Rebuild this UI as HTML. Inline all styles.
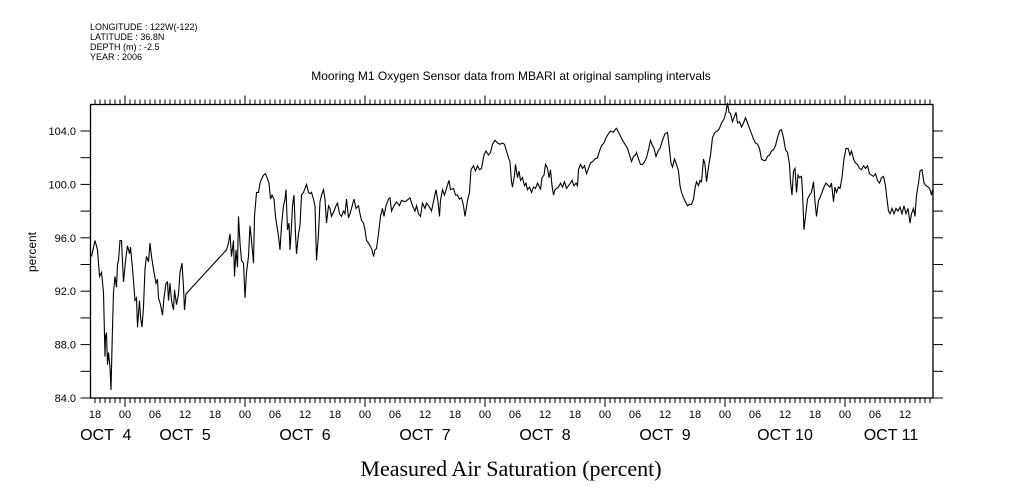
<!DOCTYPE html>
<html><head><meta charset="utf-8"><style>
body{margin:0;background:#fff}
svg{display:block}
text{font-family:"Liberation Sans",sans-serif;fill:#000}
</style></head><body>
<svg id="chart" width="1009" height="504" viewBox="0 0 1009 504" xmlns="http://www.w3.org/2000/svg">
<g font-size="9">
<text x="90" y="30">LONGITUDE : 122W(-122)</text>
<text x="90" y="40">LATITUDE : 36.8N</text>
<text x="90" y="50">DEPTH (m) : -2.5</text>
<text x="90" y="60">YEAR : 2006</text>
</g>
<text x="511" y="80" font-size="12" text-anchor="middle">Mooring M1 Oxygen Sensor data from MBARI at original sampling intervals</text>
<text x="511" y="476" font-size="22" text-anchor="middle" style="font-family:'Liberation Serif',serif">Measured Air Saturation (percent)</text>
<text transform="translate(36,252) rotate(-90)" font-size="12" text-anchor="middle">percent</text>
<rect x="90.5" y="104.5" width="842.5" height="293.5" fill="none" stroke="#000" stroke-width="1.3"/>
<g id="axes"></g>
<g id="series"></g>
</svg>
<script>
const hours=[17.3,18.0,18.5,18.9,19.3,19.7,20.0,20.1,20.3,20.5,20.7,21.0,21.2,21.5,21.7,22.0,22.3,22.5,22.7,23.0,23.3,23.7,24.2,24.5,24.9,25.1,25.5,26.0,26.3,26.5,26.9,27.1,27.4,27.7,28.0,28.3,28.7,29.0,29.3,29.8,30.2,30.5,30.7,31.1,31.5,31.8,32.2,32.5,32.7,33.0,33.3,33.7,33.9,34.3,34.7,35.0,35.4,35.7,35.9,36.2,44.3,44.7,45.0,45.3,45.7,45.9,46.2,46.5,46.7,47.0,47.3,47.7,48.0,48.3,48.7,49.0,49.3,49.7,49.9,50.3,50.7,51.0,51.3,51.7,52.1,52.5,52.8,53.1,53.4,53.8,54.1,54.5,54.7,55.0,55.3,55.7,56.0,56.2,56.5,56.8,57.0,57.3,57.5,57.8,58.1,58.3,58.7,59.0,59.3,59.7,60.1,60.3,60.7,61.0,61.3,61.7,62.0,62.3,62.7,63.0,63.3,63.7,64.0,64.3,64.7,65.0,65.3,65.8,66.2,66.5,66.9,67.3,67.7,68.0,68.3,68.7,69.0,69.3,69.8,70.2,70.7,71.0,71.3,71.7,72.0,72.3,72.7,73.0,73.4,73.7,74.0,74.3,74.7,75.1,75.5,75.8,76.2,76.7,77.0,77.3,77.8,78.3,78.9,79.3,80.0,80.7,81.0,81.5,82.0,82.3,82.7,83.1,83.5,84.0,84.3,84.9,85.3,85.8,86.2,86.6,86.9,87.1,87.5,87.9,88.3,88.8,89.1,89.7,90.1,90.5,90.9,91.3,91.7,92.0,92.5,92.9,93.2,93.7,94.1,94.5,94.9,95.3,95.8,96.2,96.7,97.1,97.5,98.0,98.5,99.0,99.5,99.9,100.3,100.7,101.0,101.3,101.5,101.9,102.1,102.5,102.8,103.1,103.5,103.9,104.2,104.5,104.9,105.3,105.7,106.1,106.5,106.9,107.1,107.4,107.8,108.1,108.5,108.8,109.1,109.4,109.7,110.0,110.3,110.7,111.1,111.5,111.9,112.3,112.7,113.1,113.4,113.8,114.2,114.5,114.7,115.1,115.5,115.9,116.3,116.7,117.1,117.5,118.0,118.5,118.9,119.3,119.8,120.2,120.7,121.1,121.7,122.0,122.3,122.7,123.1,123.5,124.0,124.5,124.9,125.3,125.7,126.1,126.3,126.7,127.1,127.5,127.9,128.3,128.7,129.1,129.5,129.8,130.2,130.6,131.0,131.5,132.0,132.5,132.9,133.2,133.5,133.9,134.3,134.7,135.0,135.3,135.7,136.1,136.5,136.9,137.3,137.7,138.0,138.3,138.7,139.0,139.3,139.7,140.0,140.3,140.7,141.1,141.5,142.0,142.5,142.9,143.3,143.8,144.2,144.5,144.8,145.1,145.5,145.8,146.2,146.5,146.9,147.3,147.7,148.1,148.5,148.9,149.3,149.7,150.1,150.5,150.9,151.3,151.7,152.1,152.5,152.9,153.3,153.7,154.1,154.5,154.9,155.3,155.7,156.1,156.5,156.9,157.1,157.4,157.7,158.0,158.3,158.6,158.9,159.3,159.5,159.8,160.1,160.5,160.9,161.3,161.7,162.0,162.3,162.7,163.0,163.4,163.8,164.2,164.7,165.0,165.3,165.7,166.0,166.3,166.7,167.0,167.4,167.8,168.2,168.6,169.0,169.3,169.7,170.1,170.5,170.9,171.3,171.7,172.1,172.5,172.9,173.3,173.7,174.1,174.5,174.9,175.3,175.7,176.1,176.3,176.7,177.0,177.4,177.8,178.2,178.6,179.0,179.4,179.8,180.2,180.6,181.0,181.3,181.7,182.0,182.3,182.7,183.0,183.4,183.8,184.2,184.7,185.0,185.3,185.5];
const values=[94.6,95.8,95.1,93.1,93.4,91.9,87.1,88.6,88.9,86.5,87.4,86.3,84.6,89.3,91.9,93.1,92.3,94.0,94.3,95.8,95.8,92.7,94.6,95.4,94.8,95.3,93.7,91.3,91.5,89.3,91.3,90.1,89.3,90.8,93.7,94.6,94.2,95.6,94.6,93.4,92.6,92.9,91.5,91.0,90.2,91.5,92.6,92.7,91.3,92.6,91.3,90.6,92.1,91.0,91.8,93.4,94.1,92.3,90.6,91.8,95.1,95.6,96.3,94.6,95.8,93.1,95.1,93.8,97.6,95.6,94.3,94.1,91.5,93.4,94.6,96.9,95.8,94.1,97.6,99.4,99.4,100.1,100.4,100.7,100.8,100.4,100.1,98.9,99.2,98.9,97.6,96.6,96.1,95.1,96.9,98.4,98.9,99.6,96.6,97.1,95.1,96.9,98.4,99.2,96.3,94.8,96.3,96.9,99.2,99.4,99.8,100.0,99.4,99.3,99.4,98.9,98.4,94.3,96.3,98.7,99.2,99.6,98.9,97.1,98.4,98.2,97.6,98.0,98.4,98.6,97.8,97.6,98.0,97.8,98.9,97.5,97.8,98.2,98.9,98.2,98.4,97.8,97.3,97.1,96.6,95.8,95.6,95.4,95.1,94.6,95.1,95.2,96.3,97.6,98.2,97.6,98.4,98.9,99.0,98.0,98.4,98.7,98.4,98.8,98.7,98.9,99.0,98.4,98.0,98.4,97.8,97.6,98.6,98.2,98.6,98.3,98.0,98.9,99.6,98.7,97.6,98.8,99.6,99.2,99.7,100.3,99.6,99.7,99.2,99.2,98.9,99.0,98.4,97.6,98.8,99.4,101.1,101.4,101.0,101.4,101.1,101.2,102.2,102.5,102.2,102.4,103.0,103.3,103.1,103.0,103.1,103.0,102.5,102.0,101.7,100.2,99.8,100.7,101.5,100.5,101.0,100.3,100.5,99.9,100.1,99.6,99.8,99.4,99.8,99.7,100.1,99.8,99.6,100.5,100.7,101.5,101.2,100.5,101.1,99.9,99.2,99.6,99.7,99.8,100.1,99.8,100.2,99.7,99.9,100.1,100.3,99.9,100.1,99.9,101.1,101.5,101.2,101.4,100.8,101.2,101.6,101.7,101.9,102.0,102.5,102.9,103.1,103.5,103.8,104.0,103.9,104.1,104.2,103.9,103.6,103.3,103.0,102.7,102.2,101.7,102.1,102.2,102.4,101.9,101.5,101.5,101.7,102.0,102.6,103.3,102.9,102.7,102.1,102.5,102.7,103.3,103.8,103.9,102.6,101.6,101.3,101.9,101.5,101.0,99.9,99.4,99.0,98.7,98.4,98.5,98.5,98.9,99.7,100.2,99.9,100.3,100.2,101.9,101.5,100.2,101.3,102.2,103.5,103.9,104.0,104.2,104.6,104.9,105.4,106.1,105.4,105.3,104.7,105.0,105.4,104.6,104.7,104.3,104.6,105.0,104.6,104.2,103.8,103.4,103.1,103.0,102.7,101.9,101.8,101.8,102.1,102.2,102.5,102.6,102.9,103.5,104.0,104.1,103.5,102.6,102.4,101.5,100.2,99.2,101.0,101.2,99.4,100.7,100.5,100.6,99.4,96.6,97.6,98.9,99.2,99.4,100.2,98.7,97.6,98.8,99.0,99.4,99.8,100.1,99.9,99.8,100.1,98.7,99.8,99.4,99.8,99.7,100.5,101.9,102.7,102.7,102.2,102.5,101.9,101.6,101.5,101.2,101.1,101.4,101.2,101.4,100.8,100.7,100.6,100.8,100.3,100.1,100.5,100.6,99.9,99.2,98.0,97.8,98.2,97.8,98.2,98.0,98.3,97.8,98.4,97.8,98.2,97.1,97.8,98.2,97.6,99.2,100.1,101.0,101.1,100.1,99.9,99.8,99.6,99.2,99.6];
const yTickValues=[84,88,92,96,100,104];
const hourLabels=["00","06","12","18"];
const dayNames=["OCT  4","OCT  5","OCT  6","OCT  7","OCT  8","OCT  9","OCT 10","OCT 11"];

const X0=5,PXH=5,Y0=398,PXU=13.35,LEFT=90.5,RIGHT=933,TOP=104.5,BOT=398;
const xS=h=>X0+h*PXH;
const yS=v=>Y0-(v-84)*PXU;
const NS="http://www.w3.org/2000/svg";
const axes=document.getElementById('axes');
function mk(tag,attrs,parent){const e=document.createElementNS(NS,tag);for(const k in attrs)e.setAttribute(k,attrs[k]);parent.appendChild(e);return e;}

// x ticks (hourly)
for(let h=Math.ceil((LEFT-X0)/PXH);xS(h)<=RIGHT;h++){
  const x=xS(h), major=h%24===0;
  const len=major?9:5;
  const b=mk('line',{x1:x,x2:x,y1:BOT,y2:BOT+len,stroke:'#000','stroke-width':1},axes);
  
  
  const t=mk('line',{x1:x,x2:x,y1:TOP,y2:TOP-len,stroke:'#000','stroke-width':1},axes);
  
  
  if(h%6===0){
    const lb=mk('text',{x:x,y:418,'font-size':11,'text-anchor':'middle'},axes);
    lb.textContent=hourLabels[(h%24)/6];
    
    
  }
}
// day labels
dayNames.forEach((d,i)=>{
  let c=xS(i*24+12);
  if(i===0)c=(LEFT+xS(24))/2-2;
  if(i===dayNames.length-1)c=Math.min(c,(xS(i*24)+RIGHT)/2+2);
  const t=mk('text',{x:c,y:440,'font-size':16,'text-anchor':'middle','xml:space':'preserve'},axes);
  t.style.whiteSpace='pre';
  t.textContent=d;
  
  
});
// y ticks every 2 units
for(let v=86;v<104.5;v+=2){
  const y=yS(v);
  const l=mk('line',{x1:LEFT-10,x2:LEFT,y1:y,y2:y,stroke:'#000','stroke-width':1},axes);
  
  
  const r=mk('line',{x1:RIGHT,x2:RIGHT+10,y1:y,y2:y,stroke:'#000','stroke-width':1},axes);
  
  
}
mk('line',{x1:LEFT-10,x2:LEFT,y1:BOT,y2:BOT,stroke:'#000'},axes);
mk('line',{x1:RIGHT,x2:RIGHT+10,y1:BOT,y2:BOT,stroke:'#000'},axes);
yTickValues.forEach(v=>{
  const t=mk('text',{x:76,y:yS(v)+4,'font-size':11,'text-anchor':'end'},axes);
  t.textContent=v.toFixed(1);
  
  
});
// series
const d=hours.map((h,i)=>(i?'L':'M')+xS(h).toFixed(1)+' '+yS(values[i]).toFixed(1)).join(' ');
const p=mk('path',{d:d,fill:'none',stroke:'#000','stroke-width':1.1,'stroke-linejoin':'miter'},document.getElementById('series'));


</script>
</body></html>
